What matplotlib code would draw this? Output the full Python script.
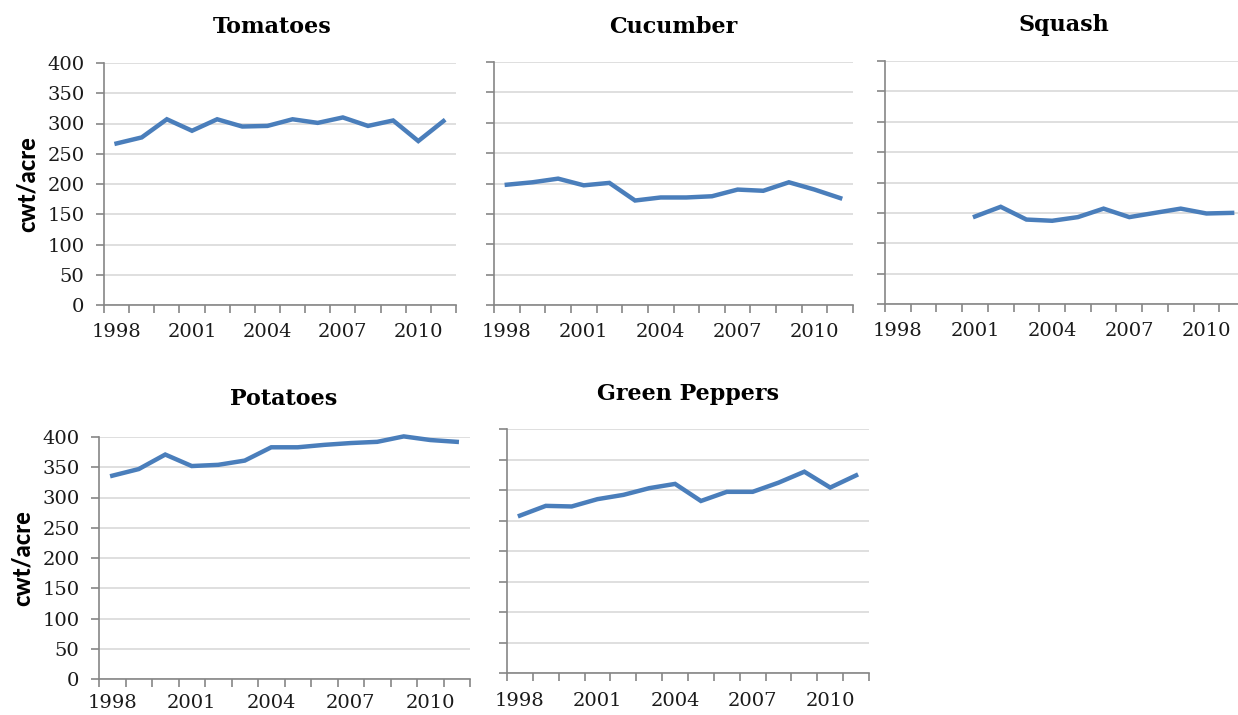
import matplotlib.pyplot as plt
import numpy as np

##############################################################################################################################
# data (cwt/acre)

years = list(range(1998, 2012))
year_labels = ['1998', '2001', '2004', '2007', '2010']

tomatoes = [267, 277, 307, 288, 307, 295, 296, 307, 301, 310, 296, 305, 271, 304]
cucumber = [198, 202, 208, 197, 201, 172, 177, 177, 179, 190, 188, 202, 190, 176]
squash_years = list(range(2001, 2012))
squash = [144, 160, 139, 137, 143, 157, 143, 150, 157, 149, 150]
potatoes = [336, 347, 371, 352, 354, 361, 383, 383, 387, 390, 392, 401, 395, 392]
green_peppers = [258, 274, 273, 285, 292, 303, 310, 282, 297, 297, 312, 330, 304, 324]

##############################################################################################################################
# plot data

W, H = 1238, 715
fig = plt.figure(figsize=(W / 100, H / 100), dpi=100)

line_color = '#4a7ebb'
grid_color = '#d9d9d9'
axis_color = '#868686'
serif = ['DejaVu Serif']
tick_size = 14

def make_axes(left, right, top, bottom):
    return fig.add_axes([left / W, 1 - bottom / H, (right - left) / W, (bottom - top) / H])

def style(ax, show_ylabels, ylabel, xpad):
    n = len(years)
    ax.set_xlim(-0.5, n - 0.5)
    ax.set_ylim(0, 400)
    ax.set_yticks(range(0, 401, 50))
    ax.grid(axis='y', color=grid_color, linewidth=1.2)
    ax.set_axisbelow(True)
    for s in ['top', 'right']:
        ax.spines[s].set_visible(False)
    for s in ['left', 'bottom']:
        ax.spines[s].set_color(axis_color)
        ax.spines[s].set_linewidth(1.2)
    # boundary ticks between categories, labels every 3rd year
    ax.set_xticks(np.arange(-0.5, n, 1.0))
    ax.set_xticklabels([])
    ax.set_xticks([years.index(int(y)) for y in year_labels], minor=True)
    ax.set_xticklabels(year_labels, minor=True, fontsize=tick_size, family=serif, color='#1a1a1a')
    ax.tick_params(axis='x', which='major', length=6, color=axis_color, width=1.2)
    ax.tick_params(axis='x', which='minor', length=0, pad=xpad)
    ax.tick_params(axis='y', length=6, color=axis_color, width=1.2, pad=8)
    if show_ylabels:
        for lab in ax.get_yticklabels():
            lab.set_fontsize(tick_size)
            lab.set_family(serif)
            lab.set_color('#1a1a1a')
    else:
        ax.set_yticklabels([])
    if ylabel:
        ax.set_ylabel('cwt/acre', fontsize=17, fontweight='black', family='Lato', labelpad=6)

def plot_series(ax, xs, vals):
    ax.plot([years.index(x) for x in xs], vals, color=line_color, linewidth=3.2,
            solid_joinstyle='miter', clip_on=False)

def title(x, y, s):
    fig.text(x / W, 1 - y / H, s, ha='center', va='baseline', fontsize=16,
             fontweight='heavy', family=serif)

ax1 = make_axes(104, 456, 63, 305)
style(ax1, True, True, 13)
plot_series(ax1, years, tomatoes)
title(272, 33, 'Tomatoes')

ax2 = make_axes(494, 853, 62, 305)
style(ax2, False, False, 13)
plot_series(ax2, years, cucumber)
title(673, 33, 'Cucumber')

ax3 = make_axes(885, 1245, 61, 304)
style(ax3, False, False, 13)
plot_series(ax3, squash_years, squash)
title(1064, 31, 'Squash')

ax4 = make_axes(99, 470, 437, 679)
style(ax4, True, True, 11)
plot_series(ax4, years, potatoes)
title(284, 405, 'Potatoes')

ax5 = make_axes(507, 869, 429, 673)
style(ax5, False, False, 14)
plot_series(ax5, years, green_peppers)
title(688, 400, 'Green Peppers')

fig.savefig('out.png', dpi=100)
